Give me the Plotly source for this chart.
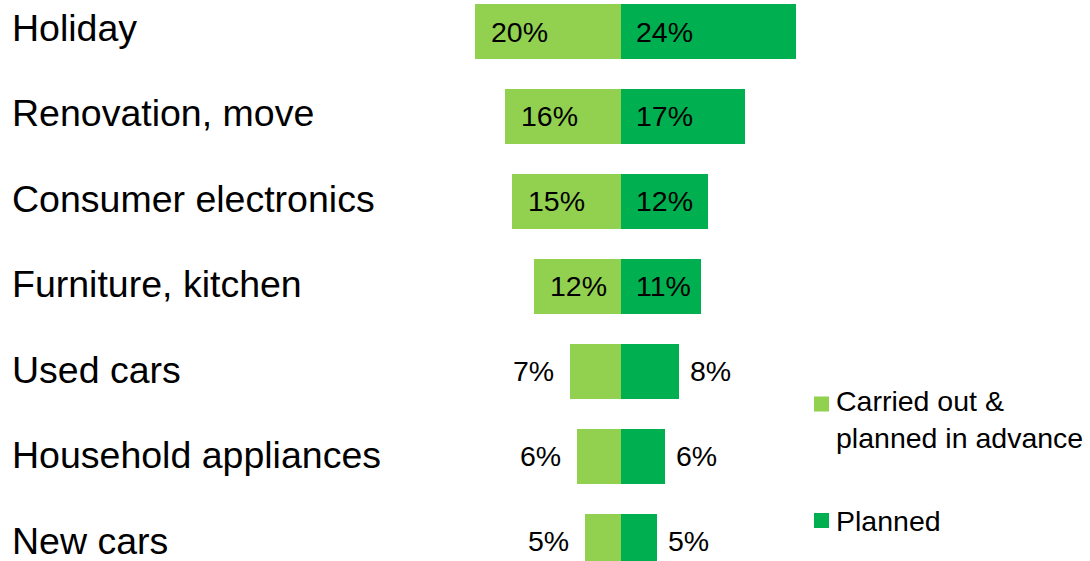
import plotly.graph_objects as go

# Survey categories (top to bottom) and shares in percent
categories = ["Holiday", "Renovation, move", "Consumer electronics",
              "Furniture, kitchen", "Used cars", "Household appliances", "New cars"]
carried_out = [20, 16, 15, 12, 7, 6, 5]
planned = [24, 17, 12, 11, 8, 6, 5]
series_names = ["Carried out &<br>planned in advance", "Planned"]

LIGHT = "#92D050"
DARK = "#00B050"
FONT = "Liberation Sans, Arial, sans-serif"
W, H = 1090, 561

fig = go.Figure()
fig.add_trace(go.Bar(y=categories, x=[-v for v in carried_out], orientation="h",
                     marker=dict(color=LIGHT, line=dict(width=0)), width=0.648,
                     name=series_names[0], showlegend=False))
fig.add_trace(go.Bar(y=categories, x=planned, orientation="h",
                     marker=dict(color=DARK, line=dict(width=0)), width=0.648,
                     name=series_names[1], showlegend=False))

annotations = []

# Category names, left-aligned at the left edge (text column slightly more spread than the bars)
for i, cat in enumerate(categories):
    annotations.append(dict(xref="paper", x=0, y=cat, text=cat, xanchor="left",
                            xshift=10, yshift=4 - 0.67 * i, showarrow=False,
                            font=dict(family=FONT, size=37.5, color="black")))

# Value labels: inside the bars for the large values, outside for the small ones
lab_font = dict(family=FONT, size=28.5, color="black")
for cat, c, p in zip(categories, carried_out, planned):
    if c >= 10:
        annotations.append(dict(x=-c, y=cat, text=f"{c}%", xanchor="left",
                                xshift=14, showarrow=False, font=lab_font))
    else:
        annotations.append(dict(x=-c, y=cat, text=f"{c}%", xanchor="right",
                                xshift=-14, showarrow=False, font=lab_font))
    if p >= 10:
        annotations.append(dict(x=0, y=cat, text=f"{p}%", xanchor="left",
                                xshift=13, showarrow=False, font=lab_font))
    else:
        annotations.append(dict(x=p, y=cat, text=f"{p}%", xanchor="left",
                                xshift=9, showarrow=False, font=lab_font))

# Hand-placed legend on the right
legend_items = [(series_names[0], LIGHT, 404, 419), (series_names[1], DARK, 520.5, 521)]
shapes = []
for name, col, sym_y, txt_y in legend_items:
    shapes.append(dict(type="rect", xref="paper", yref="paper",
                       x0=814 / W, x1=829 / W,
                       y0=1 - (sym_y + 7.5) / H, y1=1 - (sym_y - 7.5) / H,
                       fillcolor=col, line=dict(width=0)))
    annotations.append(dict(xref="paper", yref="paper", x=834 / W, y=1 - txt_y / H,
                            xanchor="left", yanchor="middle", align="left",
                            text=name, showarrow=False,
                            font=dict(family=FONT, size=28.5, color="black")))

fig.update_layout(
    width=W, height=H,
    margin=dict(l=0, r=0, t=0, b=0, pad=0),
    paper_bgcolor="white", plot_bgcolor="white",
    barmode="relative", bargap=0,
    showlegend=False,
    annotations=annotations, shapes=shapes,
    xaxis=dict(range=[-621 / 7.28, (W - 621) / 7.28], visible=False, fixedrange=True),
    yaxis=dict(range=[6.235, -0.371], visible=False, fixedrange=True),
)

fig.write_html("out.html", config={"displayModeBar": False})
